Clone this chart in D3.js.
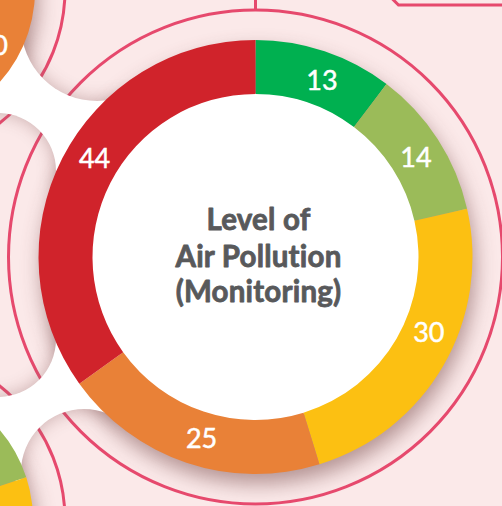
<!DOCTYPE html>
<html>
<head>
<meta charset="utf-8">
<script src="https://cdn.jsdelivr.net/npm/d3@7"></script>
<style>
  html, body { margin: 0; padding: 0; background: #fbe9e9; }
  svg { display: block; }
</style>
</head>
<body>
<script>
// Datos del gráfico
const categories = ["Good", "Satisfactory", "Moderate", "Poor", "Very Poor"];
const monitoringCounts = [13, 14, 30, 25, 44];
const categoryColors = ["#00b050", "#9bbb59", "#fcc012", "#e98137", "#d0232b"];
// Gráficos vecinos (solo se ve una parte)
const upperNeighbourCounts = [10, 10, 10, 40, 80];
const lowerNeighbourCounts = [10, 10, 25, 30, 25];
const centreTitle = ["Level of", "Air Pollution", "(Monitoring)"];

const width = 502;
const height = 506;
const pink = "#fbe9e9";
const ringColor = "#e6496d";

// Geometría de los donuts
const main = { cx: 255.5, cy: 257, outer: 217, inner: 163, ring: 247, labelR: 189 };
const upper = { cx: -103, cy: -10, outer: 138, inner: 82, ring: 168, labelR: 110 };
const lower = { cx: -105, cy: 520, outer: 138, inner: 82, ring: 170, labelR: 110 };
// pequeño ajuste angular de las etiquetas (grados)
const labelNudge = [2, 1, -6.5, -2, 4.5];

const svg = d3.select("body").append("svg")
    .attr("width", width)
    .attr("height", height);

const defs = svg.append("defs");

defs.append("filter")
    .attr("id", "softShadow")
    .attr("filterUnits", "userSpaceOnUse")
    .attr("x", -300).attr("y", -300).attr("width", 1100).attr("height", 1100)
    .append("feGaussianBlur").attr("stdDeviation", 10);

defs.append("filter")
    .attr("id", "blobShadow")
    .attr("filterUnits", "userSpaceOnUse")
    .attr("x", -100).attr("y", -100).attr("width", 700).attr("height", 700)
    .append("feGaussianBlur").attr("stdDeviation", 9);

// Huecos blancos entre los círculos (polígono menos discos)
const blobs = [
    { id: "blobTop",
      poly: [[-10, 40], [30, 20], [130, 90], [120, 200], [40, 190], [-10, 130]],
      cuts: [[97, 25, 76], [-2, 171, 58]] },
    { id: "blobBottom",
      poly: [[-10, 380], [40, 320], [120, 320], [125, 425], [60, 500], [-10, 470]],
      cuts: [[-2, 339, 58], [84, 472, 63]] }
];

blobs.forEach(b => {
    const m = defs.append("mask")
        .attr("id", b.id)
        .attr("maskUnits", "userSpaceOnUse")
        .attr("x", -100).attr("y", -100).attr("width", 700).attr("height", 700);
    m.append("polygon")
        .attr("points", b.poly.map(p => p.join(",")).join(" "))
        .attr("fill", "white");
    b.cuts.forEach(c => {
        m.append("circle").attr("cx", c[0]).attr("cy", c[1]).attr("r", c[2]).attr("fill", "black");
    });
});

// Fondo
svg.append("rect")
    .attr("width", width)
    .attr("height", height)
    .attr("fill", pink);

// Sombras de los donuts
[upper, lower, main].forEach(d => {
    svg.append("circle")
        .attr("cx", d.cx + 3)
        .attr("cy", d.cy + 10)
        .attr("r", d.outer)
        .attr("fill", "#6e4040")
        .attr("opacity", 0.5)
        .attr("filter", "url(#softShadow)");
});

// Anillos exteriores
[upper, lower, main].forEach(d => {
    svg.append("circle")
        .attr("cx", d.cx)
        .attr("cy", d.cy)
        .attr("r", d.ring)
        .attr("fill", "none")
        .attr("stroke", ringColor)
        .attr("stroke-width", 3);
});

// Líneas decorativas arriba
svg.append("line")
    .attr("x1", main.cx).attr("x2", main.cx)
    .attr("y1", -2).attr("y2", main.cy - main.ring)
    .attr("stroke", ringColor).attr("stroke-width", 3);

svg.append("path")
    .attr("d", "M391.5,-2 L398.5,5 L504,5")
    .attr("fill", "none")
    .attr("stroke", ringColor).attr("stroke-width", 3);

// Huecos blancos con su sombra
blobs.forEach(b => {
    svg.append("g")
        .attr("filter", "url(#blobShadow)")
        .attr("opacity", 0.45)
        .append("rect")
        .attr("x", -100).attr("y", -100).attr("width", 700).attr("height", 700)
        .attr("fill", "#8f6464")
        .attr("mask", `url(#${b.id})`);
    svg.append("rect")
        .attr("x", -100).attr("y", -100).attr("width", 700).attr("height", 700)
        .attr("fill", "white")
        .attr("mask", `url(#${b.id})`);
});

const pie = d3.pie().sort(null).value(d => d);

function drawDonut(geo, counts, nudge) {
    const g = svg.append("g")
        .attr("transform", `translate(${geo.cx},${geo.cy})`);

    g.append("circle")
        .attr("r", geo.inner + 1)
        .attr("fill", "white");

    const arc = d3.arc()
        .innerRadius(geo.inner)
        .outerRadius(geo.outer);

    const slices = pie(counts);

    g.selectAll("path.slice")
        .data(slices)
        .join("path")
        .attr("class", "slice")
        .attr("d", arc)
        .attr("fill", (d, i) => categoryColors[i]);

    const labelArc = d3.arc()
        .innerRadius(geo.labelR)
        .outerRadius(geo.labelR);

    // posiciones de etiquetas; se omiten las que quedan fuera del lienzo
    const labels = slices.map((d, i) => {
        const a = (d.startAngle + d.endAngle) / 2 + (nudge ? nudge[i] : 0) * Math.PI / 180;
        const [x, y] = labelArc.centroid({ startAngle: a, endAngle: a });
        return { value: d.data, x, y };
    }).filter(l => geo.cx + l.x > -12 && geo.cy + l.y > -10 && geo.cy + l.y < height + 10);

    g.selectAll("text.value")
        .data(labels)
        .join("text")
        .attr("class", "value")
        .attr("transform", d => `translate(${d.x},${d.y})`)
        .attr("text-anchor", "middle")
        .attr("dy", "0.36em")
        .attr("fill", "white")
        .attr("stroke", "white")
        .attr("stroke-width", 0.5)
        .style("font-family", "Lato, 'Open Sans', sans-serif")
        .style("font-size", "27px")
        .text(d => d.value);

    return g;
}

drawDonut(upper, upperNeighbourCounts, null);
drawDonut(lower, lowerNeighbourCounts, null);
drawDonut(main, monitoringCounts, labelNudge);

// Título central
const title = svg.append("text")
    .attr("text-anchor", "middle")
    .attr("fill", "#58595b")
    .attr("stroke", "#58595b")
    .attr("stroke-width", 0.8)
    .attr("stroke-linejoin", "round")
    .style("font-family", "Lato, 'Open Sans', sans-serif")
    .style("font-weight", "bold")
    .style("font-size", "29.5px")
    .style("letter-spacing", "0.2px");

const baselines = [-27, 9.7, 44.7];
title.selectAll("tspan")
    .data(centreTitle)
    .join("tspan")
    .attr("x", main.cx + 3)
    .attr("y", (d, i) => main.cy + baselines[i])
    .text(d => d);
</script>
</body>
</html>
